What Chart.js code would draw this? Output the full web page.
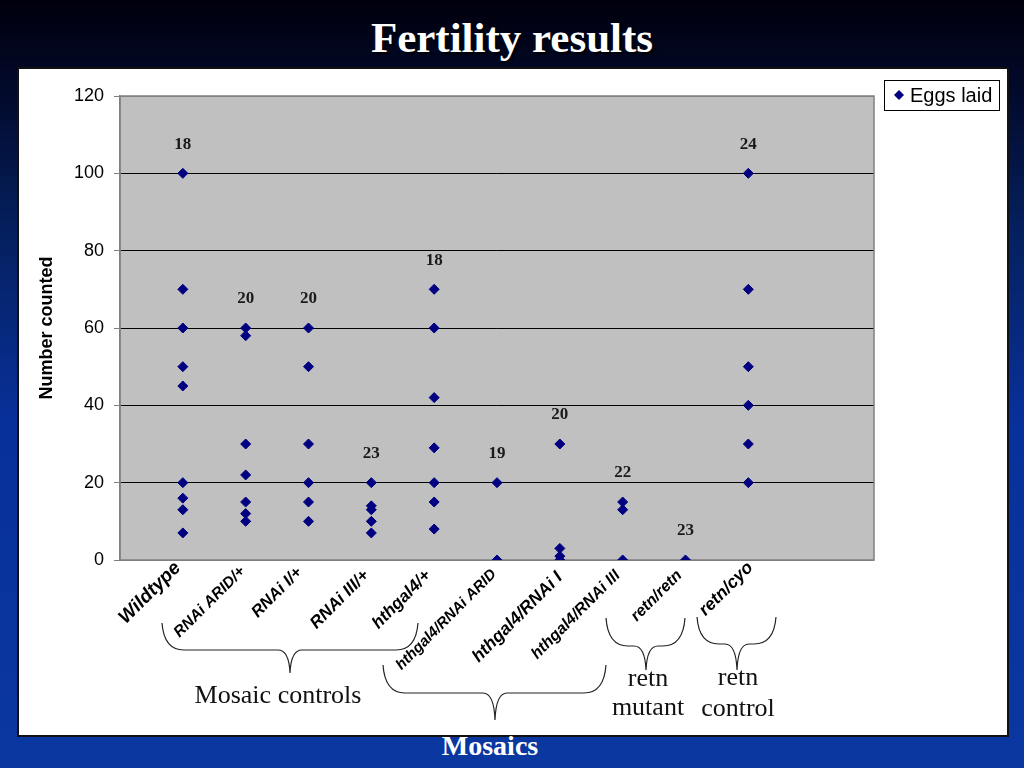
<!DOCTYPE html>
<html>
<head>
<meta charset="utf-8">
<script src="https://cdn.jsdelivr.net/npm/chart.js@4.4.1/dist/chart.umd.min.js"></script>
<style>
  html, body { margin: 0; padding: 0; }
  body {
    width: 1024px; height: 768px; overflow: hidden; position: relative;
    background: linear-gradient(to bottom, #00000c 0%, #020a2c 12%, #05205e 30%, #08309a 55%, #0a37a0 100%);
  }
  #title {
    position: absolute; left: 0; top: 13px; width: 1024px; text-align: center;
    font: bold 43px/50px "Liberation Serif", serif; color: #fff;
    text-shadow: 2px 2px 2px #000;
  }
  #panel {
    position: absolute; left: 17px; top: 67px; width: 988px; height: 666px;
    background: #fff; border: 2px solid #111;
  }
  #bottom {
    position: absolute; left: 390px; top: 730px; width: 200px; text-align: center;
    font: bold 28px/32px "Liberation Serif", serif; color: #fff;
  }
  #myChart { position: absolute; left: 0; top: 0; }
</style>
</head>
<body>
<div id="title">Fertility results</div>
<div id="panel"></div>
<div id="bottom">Mosaics</div>
<canvas id="myChart" width="1024" height="768"></canvas>
<script>
// categories along the x axis (x = 1..10)
const categories = [
  "Wildtype", "RNAi ARID/+", "RNAi I/+", "RNAi III/+", "hthgal4/+",
  "hthgal4/RNAi ARID", "hthgal4/RNAi I", "hthgal4/RNAi III", "retn/retn", "retn/cyo"
];
// number of flies per category (label above each column)
const counts = [18, 20, 20, 23, 18, 19, 20, 22, 23, 24];

// eggs laid, visible values per category
const wildtype = [100, 70, 60, 50, 45, 20, 16, 13, 7];
const rnaiArid = [60, 58, 30, 22, 15, 12, 10];
const rnaiI = [60, 50, 30, 20, 15, 10];
const rnaiIII = [20, 14, 13, 10, 7];
const hthgal4 = [70, 60, 42, 29, 20, 15, 8];
const hthRnaiArid = [20, 0];
const hthRnaiI = [30, 3, 1, 0];
const hthRnaiIII = [15, 13, 0];
const retnRetn = [0];
const retnCyo = [100, 70, 50, 40, 30, 20];
const eggsLaid = [wildtype, rnaiArid, rnaiI, rnaiIII, hthgal4, hthRnaiArid, hthRnaiI, hthRnaiIII, retnRetn, retnCyo];

const yTicks = [0, 20, 40, 60, 80, 100, 120];

// label layout: font size, dx, dy of the text end relative to the tick
const labelLayout = [
  [19, -5, 5], [15.5, -3, 9], [16.5, -9, 10], [17, -5, 13], [17, -6, 13],
  [15, -3, 12], [17.5, 0, 15], [16, -5, 13], [16, -6, 13], [17.5, 2, 5]
];

const points = [];
eggsLaid.forEach((vals, i) => {
  vals.forEach(v => points.push({ x: i + 1, y: v }));
});

function brace(ctx, x1, x2, yEnd, yMid, xTip, yTip) {
  ctx.beginPath();
  ctx.moveTo(x1, yEnd);
  ctx.quadraticCurveTo(x1 + 2, yMid, x1 + 22, yMid);
  ctx.lineTo(xTip - 12, yMid);
  ctx.quadraticCurveTo(xTip - 1, yMid, xTip, yTip);
  ctx.quadraticCurveTo(xTip + 1, yMid, xTip + 12, yMid);
  ctx.lineTo(x2 - 22, yMid);
  ctx.quadraticCurveTo(x2 - 2, yMid, x2, yEnd);
  ctx.stroke();
}

const decor = {
  id: "decor",
  beforeDraw(chart) {
    const { ctx, chartArea: a } = chart;
    ctx.save();
    ctx.fillStyle = "#c0c0c0";
    ctx.fillRect(a.left, a.top, a.right - a.left, a.bottom - a.top);
    ctx.restore();
  },
  beforeDatasetsDraw(chart) {
    const { ctx, chartArea: a } = chart;
    ctx.save();
    ctx.strokeStyle = "#808080";
    ctx.lineWidth = 1.5;
    ctx.strokeRect(a.left, a.top, a.right - a.left, a.bottom - a.top);
    ctx.restore();
  },
  afterDraw(chart) {
    const { ctx, chartArea: a } = chart;
    const xs = chart.scales.x, ys = chart.scales.y;
    ctx.save();

    // counts above each column
    ctx.fillStyle = "#1a1a1a";
    ctx.font = "bold 17px 'Liberation Serif'";
    ctx.textAlign = "center";
    ctx.textBaseline = "middle";
    counts.forEach((n, i) => {
      const top = Math.max(...eggsLaid[i]);
      ctx.fillText(String(n), xs.getPixelForValue(i + 1), ys.getPixelForValue(top) - 29);
    });

    // rotated category labels
    ctx.fillStyle = "#000";
    ctx.textAlign = "right";
    categories.forEach((c, i) => {
      const [size, dx, dy] = labelLayout[i];
      ctx.save();
      ctx.translate(xs.getPixelForValue(i + 1) + dx, a.bottom + dy);
      ctx.rotate(-Math.PI / 4);
      ctx.font = "italic bold " + size + "px 'Liberation Sans'";
      ctx.fillText(c, 0, 0);
      ctx.restore();
    });

    // group braces
    ctx.strokeStyle = "#222";
    ctx.lineWidth = 1.2;
    brace(ctx, 162, 418, 623, 650, 290, 673);
    brace(ctx, 383, 606, 665, 693, 495, 720);
    brace(ctx, 606, 685, 618, 646, 646, 670);
    brace(ctx, 697, 776, 617, 644, 737, 670);

    ctx.fillStyle = "#111";
    ctx.font = "26px 'Liberation Serif'";
    ctx.textAlign = "center";
    ctx.textBaseline = "alphabetic";
    ctx.fillText("Mosaic controls", 278, 703);
    ctx.fillText("retn", 648, 686);
    ctx.fillText("mutant", 648, 715);
    ctx.fillText("retn", 738, 685);
    ctx.fillText("control", 738, 716);

    // legend
    const ds = chart.data.datasets[0];
    ctx.fillStyle = "#fff";
    ctx.fillRect(884, 80, 115, 30);
    ctx.strokeStyle = "#000";
    ctx.lineWidth = 1;
    ctx.strokeRect(884.5, 80.5, 115, 30);
    ctx.fillStyle = ds.backgroundColor;
    ctx.beginPath();
    ctx.moveTo(899, 90); ctx.lineTo(904, 95); ctx.lineTo(899, 100); ctx.lineTo(894, 95);
    ctx.closePath();
    ctx.fill();
    ctx.fillStyle = "#000";
    ctx.font = "20px 'Liberation Sans'";
    ctx.textAlign = "left";
    ctx.textBaseline = "middle";
    ctx.fillText(ds.label, 910, 96);

    ctx.restore();
  }
};

new Chart(document.getElementById("myChart"), {
  type: "scatter",
  plugins: [decor],
  data: {
    datasets: [{
      label: "Eggs laid",
      data: points,
      pointStyle: "rectRot",
      pointRadius: 5,
      pointHoverRadius: 5,
      backgroundColor: "#000080",
      borderColor: "#000080",
      borderWidth: 1
    }]
  },
  options: {
    responsive: false,
    devicePixelRatio: 1,
    animation: false,
    events: [],
    layout: { padding: { left: 18, top: 96, right: 150, bottom: 208 } },
    plugins: { legend: { display: false }, tooltip: { enabled: false } },
    scales: {
      x: { type: "linear", min: 0, max: 12, display: false },
      y: {
        min: 0, max: 120,
        afterFit: s => { s.width = 102; },
        afterBuildTicks: s => { s.ticks = yTicks.map(v => ({ value: v })); },
        grid: {
          color: c => (c.tick.value === 0 || c.tick.value === 120) ? "#808080" : "#000",
          lineWidth: 1,
          tickLength: 6,
          tickColor: "#808080"
        },
        border: { color: "#808080", width: 1.5 },
        ticks: { color: "#000", padding: 10, font: { family: "Liberation Sans", size: 18 } },
        title: {
          display: true, text: "Number counted", color: "#000",
          font: { family: "Liberation Sans", size: 18, weight: "bold" },
          padding: { top: 18, bottom: 0 }
        }
      }
    }
  }
});
</script>
</body>
</html>
